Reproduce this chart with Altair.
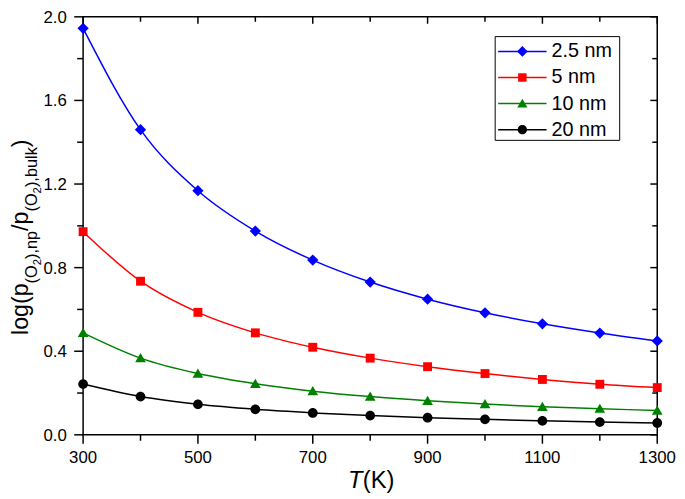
import altair as alt
import pandas as pd

# ---- data ----
T = [300, 400, 500, 600, 700, 800, 900, 1000, 1100, 1200, 1300]
series = ["2.5 nm", "5 nm", "10 nm", "20 nm"]
v25 = [1.945, 1.460, 1.168, 0.975, 0.836, 0.731, 0.649, 0.584, 0.531, 0.487, 0.449]
v5 = [0.972, 0.735, 0.586, 0.488, 0.419, 0.367, 0.326, 0.293, 0.265, 0.242, 0.226]
v10 = [0.488, 0.367, 0.293, 0.244, 0.209, 0.183, 0.163, 0.147, 0.134, 0.125, 0.116]
v20 = [0.243, 0.183, 0.146, 0.122, 0.105, 0.092, 0.082, 0.074, 0.067, 0.061, 0.057]
colors = ["#0000ff", "#ff0000", "#008000", "#000000"]
x_major = [300, 500, 700, 900, 1100, 1300]
x_minor = [400, 600, 800, 1000, 1200]
y_major = [0.0, 0.4, 0.8, 1.2, 1.6, 2.0]
y_minor = [0.2, 0.6, 1.0, 1.4, 1.8]

rows = []
for name, vals in zip(series, [v25, v5, v10, v20]):
    for t, v in zip(T, vals):
        rows.append({"T": t, "v": v, "s": name})
df = pd.DataFrame(rows)

W, H = 581, 423
FONT = "Liberation Sans"

xs = alt.Scale(domain=[300, 1300], nice=False, zero=False)
ys = alt.Scale(domain=[0, 2], nice=False)
col_scale = alt.Scale(domain=series, range=colors)

marker_paths = [
    "M0,-0.95L0.95,0L0,0.95L-0.95,0Z",
    "M-0.75,-0.75H0.75V0.75H-0.75Z",
    "M0,-0.85L0.9,0.7H-0.9Z",
    "M-0.82,0A0.82,0.82,0,1,1,0.82,0A0.82,0.82,0,1,1,-0.82,0Z",
]

base = alt.Chart(df)
lines = base.mark_line(interpolate="monotone", strokeWidth=1.5).encode(
    x=alt.X("T:Q", scale=xs, axis=None),
    y=alt.Y("v:Q", scale=ys, axis=None),
    color=alt.Color("s:N", scale=col_scale, legend=None),
)

point_layers = []
for name, path in zip(series, marker_paths):
    point_layers.append(
        base.transform_filter(alt.datum.s == name).mark_point(
            filled=True, opacity=1, size=144, shape=path).encode(
            x=alt.X("T:Q", scale=xs, axis=None),
            y=alt.Y("v:Q", scale=ys, axis=None),
            color=alt.Color("s:N", scale=col_scale, legend=None),
        )
    )

# ---- axes drawn as marks (ticks + labels) ----
def xticks(vals, y0, y1):
    return alt.Chart(pd.DataFrame({"t": vals})).mark_rule(strokeWidth=1.5, color="black").encode(
        x=alt.X("t:Q", scale=xs, axis=None), y=alt.value(y0), y2=alt.value(y1))

def yticks(vals, x0, x1):
    return alt.Chart(pd.DataFrame({"t": vals})).mark_rule(strokeWidth=1.5, color="black").encode(
        y=alt.Y("t:Q", scale=ys, axis=None), x=alt.value(x0), x2=alt.value(x1))

ticks = [
    xticks(x_major, H, H + 9),
    xticks(x_minor, H, H + 6),
    xticks(x_major, 0, 7),
    xticks(x_minor, 0, 5),
    yticks(y_major, -9, 0),
    yticks(y_minor, -6, 0),
    yticks(y_major, W - 7, W),
    yticks(y_minor, W - 5, W),
]

x_labels = alt.Chart(pd.DataFrame({"t": x_major})).mark_text(
    fontSize=17, font=FONT, color="black", align="center", baseline="alphabetic").encode(
    x=alt.X("t:Q", scale=xs, axis=None), y=alt.value(H + 28.5),
    text=alt.Text("t:Q", format="d"))
y_labels = alt.Chart(pd.DataFrame({"t": y_major})).mark_text(
    fontSize=17, font=FONT, color="black", align="right", baseline="alphabetic", dy=6).encode(
    y=alt.Y("t:Q", scale=ys, axis=None), x=alt.value(-16.5),
    text=alt.Text("t:Q", format=".1f"))

# ---- text titles (y title built from pieces to get subscripts) ----
one = pd.DataFrame({"a": [0]})

def label(txt, x, y, size, angle=0, style="normal", baseline="alphabetic"):
    return alt.Chart(one).mark_text(
        text=txt, fontSize=size, font=FONT, fontStyle=style, angle=angle,
        align="left", baseline=baseline, color="black").encode(
        x=alt.value(x), y=alt.value(y))

cw = {"l": .222, "o": .556, "g": .556, "(": .333, ")": .333, "p": .556, "O": .778,
      "2": .556, ",": .278, "n": .556, "/": .278, "b": .556, "u": .556, "k": .5}
sizes = {"main": 23.5, "sub": 16.5, "subsub": 11.5}
xoff = {"main": -55.7, "sub": -46.3, "subsub": -43}
pieces = [("log(p", "main"), ("(O", "sub"), ("2", "subsub"), ("),np", "sub"),
          ("/p", "main"), ("(O", "sub"), ("2", "subsub"), ("),bulk", "sub"), (")", "main")]
titles = []
pos = 322.0
for txt, lvl in pieces:
    titles.append(label(txt, xoff[lvl], pos, sizes[lvl], angle=270))
    pos -= sum(cw[c] for c in txt) * sizes[lvl]
titles.append(label("T", 268, 477, 24, style="italic"))
titles.append(label("(K)", 283, 477, 24))

# ---- legend drawn as marks ----
LX, LY, LW, LH = 417, 20, 126, 105
row_y = [LY + 15 + i * 26.4 for i in range(len(series))]
legend = [
    alt.Chart(one).mark_rect(fill="white", stroke="black", strokeWidth=1).encode(
        x=alt.value(LX), x2=alt.value(LX + LW), y=alt.value(LY), y2=alt.value(LY + LH))
]
for name, col, path, ry in zip(series, colors, marker_paths, row_y):
    legend.append(alt.Chart(one).mark_rule(color=col, strokeWidth=1.5).encode(
        x=alt.value(LX + 3), x2=alt.value(LX + 52), y=alt.value(ry)))
    legend.append(alt.Chart(one).mark_point(shape=path, filled=True, size=130, color=col,
                                            opacity=1).encode(
        x=alt.value(LX + 27.5), y=alt.value(ry)))
    legend.append(label(name, LX + 57, ry, 20, baseline="middle"))

chart = alt.layer(lines, *point_layers, *ticks, x_labels, y_labels, *titles, *legend).properties(
    width=W, height=H,
    padding={"left": 76, "top": 6, "right": 20, "bottom": 62},
    autosize=alt.AutoSizeParams(type="none"),
    background="white",
).configure_view(stroke="black", strokeWidth=1.5)

chart.save("out.html", embed_options={"renderer": "svg", "actions": False})
